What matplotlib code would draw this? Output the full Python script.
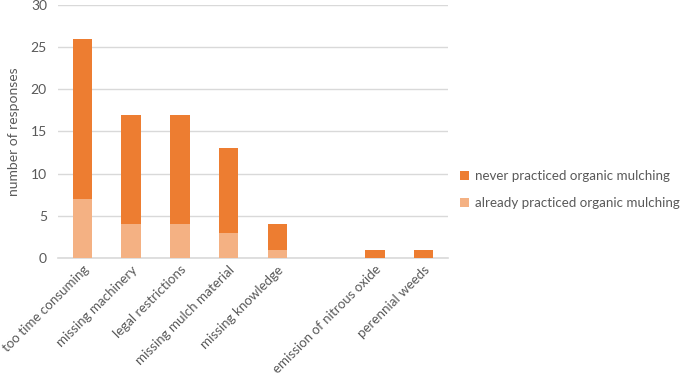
import matplotlib.pyplot as plt
import numpy as np

categories = ["too time consuming", "missing machinery", "legal restrictions",
              "missing mulch material", "missing knowledge", "",
              "emission of nitrous oxide", "perennial weeds"]
already = [7, 4, 4, 3, 1, 0, 0, 0]
never = [19, 13, 13, 10, 3, 0, 1, 1]

dark = "#ED7D31"
light = "#F4B183"
grey = "#595959"

plt.rcParams['font.family'] = ['Lato', 'DejaVu Sans']

fig = plt.figure(figsize=(6.85, 3.78), dpi=100)
ax = fig.add_axes([0.0847, 0.3175, 0.5693, 0.6695])

x = np.arange(len(categories))
b1 = ax.bar(x, already, width=0.4, color=light, label="already practiced organic mulching", zorder=3)
b2 = ax.bar(x, never, width=0.4, bottom=already, color=dark, label="never practiced organic mulching", zorder=3)

ax.set_xlim(-0.5, len(categories) - 0.5)
ax.set_ylim(0, 30)
ax.set_yticks(range(0, 31, 5))
ax.grid(axis="y", color="#D9D9D9", linewidth=1, zorder=0)

for s in ["top", "right", "left"]:
    ax.spines[s].set_visible(False)
ax.spines["bottom"].set_color("#D9D9D9")
ax.spines["bottom"].set_linewidth(1.2)

ax.tick_params(axis="both", length=0, colors=grey, labelsize=10)
ax.tick_params(axis="y", pad=8)
ax.tick_params(axis="x", pad=4, labelsize=9.6)
ax.set_xticks(x)
ax.set_xticklabels(categories, rotation=45, ha="right", rotation_mode="anchor")

ax.set_ylabel("number of responses", color=grey, fontsize=10, labelpad=8)

# legend sits lower than the middle of the plot, like the original
ax.legend(handles=[b2, b1], loc="center left", bbox_to_anchor=(1.0, 0.27),
          frameon=False, fontsize=9.6, labelcolor=grey, handlelength=0.7,
          handleheight=0.7, handletextpad=0.4, labelspacing=1.1)

fig.savefig("out.png", dpi=100)
